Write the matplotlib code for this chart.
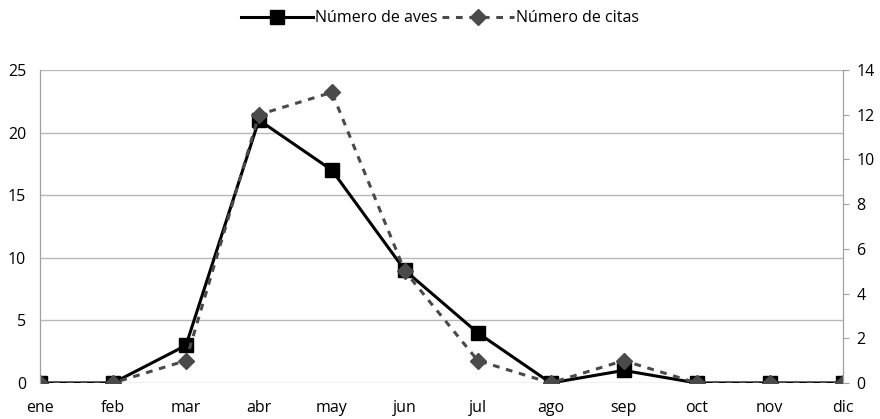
import matplotlib
matplotlib.use("Agg")
import matplotlib.pyplot as plt

months = ["ene", "feb", "mar", "abr", "may", "jun", "jul", "ago", "sep", "oct", "nov", "dic"]
aves = [0, 0, 3, 21, 17, 9, 4, 0, 1, 0, 0, 0]
citas = [0, 0, 1, 12, 13, 5, 1, 0, 1, 0, 0, 0]

plt.rcParams['font.family'] = ['Open Sans', 'DejaVu Sans']
plt.rcParams['font.size'] = 11.5

fig = plt.figure(figsize=(8.8, 4.19), dpi=100)
ax = fig.add_axes([0.0455, 0.086, 0.912, 0.747])
ax2 = ax.twinx()

x = range(len(months))
l1, = ax.plot(x, aves, color="black", lw=2.2, marker="s", ms=9.5,
              label="Número de aves")
l2, = ax2.plot(x, citas, color="#4a4a4a", lw=2.2, ls=(0, (2.2, 2.2)), marker="D",
               ms=8, label="Número de citas")

ax.set_xlim(0, len(months) - 1)
ax.set_ylim(0, 25)
ax.set_yticks(range(0, 26, 5))
ax2.set_ylim(0, 14)
ax2.set_yticks(range(0, 15, 2))
ax.set_xticks(list(x))
ax.set_xticklabels(months)

ax.grid(axis="y", color="#b8b8b8", lw=1)
ax.set_axisbelow(True)
for a in (ax, ax2):
    for s in ("top", "bottom"):
        a.spines[s].set_visible(False)
    a.spines["left"].set_color("#a0a0a0")
    a.spines["right"].set_color("#a0a0a0")
ax.tick_params(axis="x", length=0, pad=12)
ax.tick_params(axis="y", length=0, pad=10)
ax2.tick_params(axis="y", length=4, color="#a0a0a0", pad=6)

fig.legend(handles=[l1, l2], loc="upper center", bbox_to_anchor=(0.5, 1.01),
           ncol=2, frameon=False, handlelength=4.5, columnspacing=0.3,
           handletextpad=0.1, fontsize=11.5)

fig.savefig("out.png", dpi=100)
